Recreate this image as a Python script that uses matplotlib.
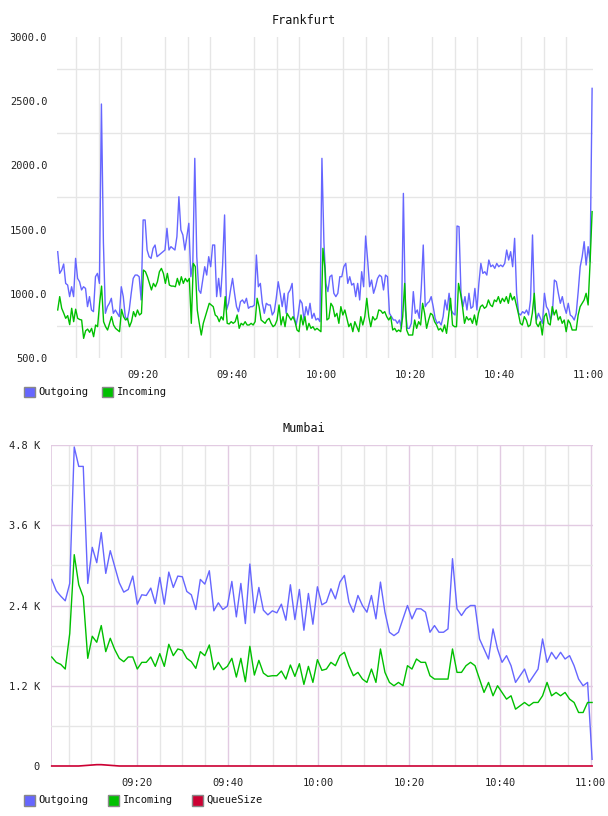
import numpy as np
import matplotlib
matplotlib.use("Agg")
import matplotlib.pyplot as plt
from matplotlib.patches import Rectangle
from matplotlib.ticker import FixedLocator, FuncFormatter

# ---------------- Frankfurt data ----------------
fra_title = "Frankfurt"
fra_start_min = 0.83     # minutes after 09:00
fra_end_min = 120.9
fra_outgoing = [
    1328,1159,1185,1232,1081,1068,978,1055,978,1276,1120,1094,1030,1055,1042,900,978,874,861,1133,
    1159,1081,2478,1400,848,900,926,965,848,874,848,822,1055,978,822,796,874,
    1004,1120,1146,1146,1133,952,1575,1575,1341,1289,1276,1354,1380,1289,1302,1315,1328,1341,1510,1341,
    1367,1354,1341,1445,1756,1497,1458,1341,1445,1549,1133,1237,2055,1289,1030,1004,1107,1211,1146,1289,
    1211,1380,1380,978,1120,978,1224,1614,874,926,1030,1120,1004,
    900,861,939,952,926,965,887,900,900,913,1302,1055,1081,926,848,926,913,913,835,861,
    965,1094,1004,900,1004,848,1004,1030,1081,822,757,835,952,926,796,900,835,926,809,848,
    796,809,783,2055,1400,1081,1017,1133,1146,1004,978,1004,1133,1133,1211,1237,1081,1133,1068,1081,
    978,1081,952,1172,1055,1450,1263,1055,1107,1004,1055,1120,1146,1133,1030,1146,1133,848,822,796,
    796,770,796,731,1782,874,731,731,
    770,1017,848,874,809,1042,1380,900,926,939,978,900,809,770,783,757,822,952,874,1004,
    874,848,835,1528,1523,1004,900,978,874,1004,887,900,1042,874,1081,1237,1159,1172,1146,1263,
    1211,1224,1198,1237,1211,1224,1211,1237,1341,1263,1328,1211,1432,1004,848,835,861,848,874,835,
    952,1458,900,796,848,809,770,1004,900,874,796,848,1107,1094,1004,926,978,900,848,926,
    835,822,796,848,1017,1211,1289,1406,1224,1367,1250,2600,
]
fra_incoming = [
    874,978,887,850,809,830,760,887,783,880,809,800,796,653,712,725,700,731,666,757,
    744,926,1060,783,744,718,770,822,757,731,718,705,879,822,796,809,
    744,783,861,822,874,835,848,1185,1172,1133,1081,1030,1081,1055,1094,1172,1198,1159,1081,1159,
    1068,1060,1060,1055,1120,1068,1133,1081,1120,1094,1120,770,1237,1211,874,770,679,770,822,874,
    926,913,900,835,822,783,822,796,978,770,765,783,770,783,
    835,731,770,757,783,757,757,770,757,783,965,900,796,783,770,796,809,770,744,757,
    796,913,757,822,744,848,822,796,822,783,718,705,835,757,822,718,770,731,744,718,
    731,718,705,1354,1198,796,809,926,900,822,848,770,900,835,874,809,744,770,705,783,
    744,705,822,757,822,965,822,744,822,796,809,874,869,848,861,822,796,822,718,731,
    705,718,705,822,1081,718,679,679,
    679,796,731,783,757,926,848,731,796,848,835,783,757,718,731,705,757,692,822,965,
    757,744,744,1081,1004,900,770,822,796,809,770,835,757,848,900,913,887,900,952,913,
    900,952,939,978,926,965,939,978,926,1004,952,978,913,848,770,757,822,796,744,757,
    848,1004,770,744,783,679,822,848,770,757,900,835,874,796,822,770,796,705,796,770,
    718,718,718,835,900,926,952,1004,913,1250,1640,
]
fra_yticks = [500, 1000, 1500, 2000, 2500, 3000]

# ---------------- Mumbai data (thousands) ----------------
mum_title = "Mumbai"
mum_start_min = 1.24
mum_end_min = 120.3
mum_outgoing = [
    2.79,2.62,2.54,2.47,2.73,4.77,4.48,4.48,2.73,3.27,3.04,3.49,2.88,3.22,2.98,2.74,2.60,2.64,2.84,2.42,
    2.56,2.55,2.66,2.43,2.82,2.42,2.90,2.67,2.84,2.83,2.61,2.56,2.34,2.79,2.72,2.92,2.32,2.44,2.34,2.39,
    2.76,2.23,2.73,2.13,3.02,2.29,2.67,2.33,2.26,2.32,2.29,2.42,2.18,2.71,2.19,2.64,2.03,2.58,2.12,2.68,
    2.41,
    2.45,2.65,2.50,2.75,2.85,2.45,2.30,2.55,2.40,2.30,2.55,2.20,2.75,2.30,2.00,1.95,2.00,2.20,2.40,2.20,
    2.35,2.35,2.30,2.00,2.10,2.00,2.00,2.05,3.10,2.35,2.25,2.35,2.40,2.40,1.90,1.75,1.60,2.05,1.75,1.55,
    1.65,1.50,1.25,1.35,1.45,1.25,1.35,1.45,1.90,1.55,1.70,1.60,1.70,1.60,1.65,1.50,1.30,1.20,1.25,0.10,
]
mum_incoming = [
    1.63,1.55,1.52,1.45,1.98,3.16,2.71,2.53,1.61,1.94,1.85,2.10,1.71,1.91,1.74,1.61,1.56,1.63,1.63,1.45,
    1.55,1.55,1.63,1.49,1.68,1.49,1.82,1.65,1.75,1.73,1.61,1.56,1.46,1.71,1.65,1.81,1.44,1.55,1.44,1.49,
    1.61,1.33,1.61,1.26,1.79,1.36,1.58,1.39,1.34,1.35,1.35,1.42,1.30,1.51,1.34,1.53,1.22,1.49,1.25,1.59,
    1.43,
    1.45,1.55,1.50,1.65,1.70,1.50,1.35,1.40,1.30,1.25,1.45,1.25,1.75,1.40,1.25,1.20,1.25,1.20,1.50,1.45,
    1.60,1.55,1.55,1.35,1.30,1.30,1.30,1.30,1.75,1.40,1.40,1.50,1.55,1.50,1.30,1.10,1.25,1.05,1.20,1.10,
    1.00,1.05,0.85,0.90,0.95,0.90,0.95,0.95,1.05,1.25,1.05,1.10,1.05,1.10,1.00,0.95,0.80,0.80,0.95,0.95,
]
mum_queuesize = [
    0,0,0,0,0,0,0,0.005,0.01,0.015,0.02,0.02,0.015,0.01,0.005,0,0,0,0,0,
    0,0,0,0,0,0,0,0,0,0,0,0,0,0,0,0,0,0,0,0,
    0,0,0,0,0,0,0,0,0,0,0,0,0,0,0,0,0,0,0,0,
    0,
    0,0,0,0,0,0,0,0,0,0,0,0,0,0,0,0,0,0,0,0,
    0,0,0,0,0,0,0,0,0,0,0,0,0,0,0,0,0,0,0,0,
    0,0,0,0,0,0,0,0,0,0,0,0,0,0,0,0,0,0,0,0,
]
mum_yticks = [0, 1.2, 2.4, 3.6, 4.8]

series_names_fra = ["Outgoing", "Incoming"]
series_names_mum = ["Outgoing", "Incoming", "QueueSize"]
C_OUT = "#6666ff"
C_IN = "#00c000"
C_Q = "#cc0033"

FONT = "DejaVu Sans Mono"
W, H = 608, 816
fig = plt.figure(figsize=(W / 100, H / 100), dpi=100)


def fmt_time(v, pos=None):
    total = int(round(v))
    h = 9 + total // 60
    m = total % 60
    return f"{h:02d}:{m:02d}"


def axes_px(left, top, right, bottom):
    return fig.add_axes([left / W, 1 - bottom / H, (right - left) / W, (bottom - top) / H])


# ---------------- Frankfurt ----------------
ax1 = axes_px(57, 37, 593, 358)
t_out = np.linspace(fra_start_min, fra_end_min, len(fra_outgoing))
t_in = np.linspace(fra_start_min, fra_end_min, len(fra_incoming))
ax1.plot(t_out, fra_outgoing, color=C_OUT, lw=1.0, zorder=3)
ax1.plot(t_in, fra_incoming, color=C_IN, lw=1.0, zorder=4)
ax1.set_xlim(0.67, 121.1)
ax1.set_ylim(500, 3000)
for s in ax1.spines.values():
    s.set_visible(False)
ax1.xaxis.set_major_locator(FixedLocator([20, 40, 60, 80, 100, 120]))
ax1.xaxis.set_minor_locator(FixedLocator(list(range(5, 125, 5))))
ax1.xaxis.set_major_formatter(FuncFormatter(fmt_time))
ax1.yaxis.set_major_locator(FixedLocator(fra_yticks))
ax1.yaxis.set_minor_locator(FixedLocator([750, 1250, 1750, 2250, 2750]))
ax1.yaxis.set_major_formatter(FuncFormatter(lambda v, p: f"{v:.1f}"))
ax1.grid(False)
ax1.grid(True, which="minor", axis="both", color="#e6e6e6", lw=1.0, zorder=0)
ax1.tick_params(which="both", length=0)
ax1.tick_params(axis="y", pad=7, labelsize=7.5, labelcolor="#222222")
ax1.tick_params(axis="x", pad=9, labelsize=7.5, labelcolor="#222222")
for lab in ax1.get_xticklabels() + ax1.get_yticklabels():
    lab.set_family(FONT)
fig.text(304 / W, 1 - 20 / H, fra_title, ha="center", va="center", fontsize=8.5, family=FONT, color="#111111")

# ---------------- Mumbai ----------------
ax2 = axes_px(51, 445, 593, 766)
t2 = np.linspace(mum_start_min, mum_end_min, len(mum_outgoing))
ax2.plot(t2, mum_outgoing, color=C_OUT, lw=1.0, zorder=3)
ax2.plot(np.linspace(mum_start_min, mum_end_min, len(mum_incoming)), mum_incoming, color=C_IN, lw=1.0, zorder=4)
ax2.plot(np.linspace(mum_start_min, mum_end_min, len(mum_queuesize)), mum_queuesize, color=C_Q, lw=1.2, zorder=5,
         clip_on=False)
ax2.set_xlim(1.08, 120.5)
ax2.set_ylim(0, 4.8)
for s in ax2.spines.values():
    s.set_visible(False)
ax2.axvline(1.08, color="#e0c8e0", lw=1.2, zorder=1)
ax2.xaxis.set_major_locator(FixedLocator([20, 40, 60, 80, 100, 120]))
ax2.xaxis.set_minor_locator(FixedLocator([m for m in range(5, 125, 5) if m % 20 != 0]))
ax2.xaxis.set_major_formatter(FuncFormatter(fmt_time))
ax2.yaxis.set_major_locator(FixedLocator(mum_yticks))
ax2.yaxis.set_minor_locator(FixedLocator([0.6, 1.8, 3.0, 4.2]))
ax2.yaxis.set_major_formatter(FuncFormatter(lambda v, p: "0" if v == 0 else f"{v:.1f} K"))
ax2.grid(True, which="major", axis="both", color="#e2cbe2", lw=1.0, zorder=1)
ax2.grid(True, which="minor", axis="both", color="#e6e6e6", lw=1.0, zorder=0)
ax2.tick_params(which="both", length=0)
ax2.tick_params(axis="y", pad=8, labelsize=7.5, labelcolor="#222222")
ax2.tick_params(axis="x", pad=9, labelsize=7.5, labelcolor="#222222")
for lab in ax2.get_xticklabels() + ax2.get_yticklabels():
    lab.set_family(FONT)
fig.text(304 / W, 1 - 428 / H, mum_title, ha="center", va="center", fontsize=8.5, family=FONT, color="#111111")


# ---------------- legends ----------------
def legend_row(y_px, entries):
    for x_px, name, col in entries:
        fig.add_artist(Rectangle((x_px / W, 1 - (y_px + 5.5) / H), 11 / W, 11 / H,
                                 transform=fig.transFigure, facecolor=col, edgecolor="#888888", lw=1.0))
        fig.text((x_px + 14.5) / W, 1 - y_px / H, name, ha="left", va="center", fontsize=7.5, family=FONT,
                 color="#111111")


legend_row(392, [(24, series_names_fra[0], C_OUT), (102, series_names_fra[1], C_IN)])
legend_row(800, [(24, series_names_mum[0], C_OUT), (108, series_names_mum[1], C_IN),
                 (192, series_names_mum[2], C_Q)])

fig.savefig("out.png", dpi=100, facecolor="white")
